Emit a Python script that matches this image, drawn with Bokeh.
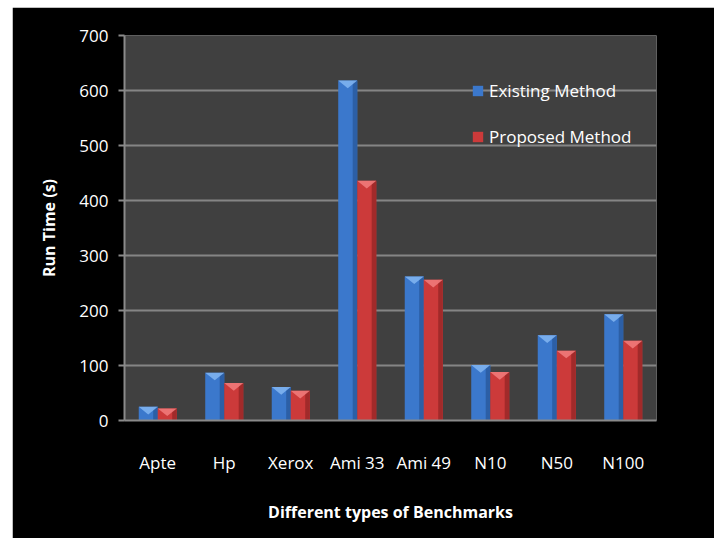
from bokeh.plotting import figure
from bokeh.models import ColumnDataSource, Range1d, FixedTicker, Legend, LegendItem, Spacer
from bokeh.layouts import column, row
from bokeh.embed import file_html
from bokeh.resources import INLINE

# ---- data ----
benchmarks = ["Apte", "Hp", "Xerox", "Ami 33", "Ami 49", "N10", "N50", "N100"]
existing = [25, 87, 61, 618, 262, 101, 155, 193]
proposed = [22, 68, 54, 436, 256, 88, 127, 145]
y_ticks = [0, 100, 200, 300, 400, 500, 600, 700]

# ---- style constants ----
BAR_W = 0.286
TRI_H = 14  # height of the top highlight, in data units
FONT = "Open Sans"

pos = [i + 0.5 for i in range(len(benchmarks))]

p = figure(
    output_backend="svg", toolbar_location=None,
    frame_width=532, frame_height=385,
    min_border_left=112, min_border_right=58,
    min_border_top=28, min_border_bottom=118,
    x_range=Range1d(0, len(benchmarks)), y_range=Range1d(0, 700),
)
p.border_fill_color = "black"
p.background_fill_color = "#404040"
p.outline_line_color = None


def draw_series(values, offset, base, dark, light):
    xs = [x + offset for x in pos]
    src = ColumnDataSource(dict(x=xs, top=values))
    main = p.vbar(x="x", top="top", width=BAR_W, source=src,
                  fill_color=base, line_color=None)
    strip = ColumnDataSource(dict(x=[x + BAR_W * 0.38 for x in xs], top=values))
    p.vbar(x="x", top="top", width=BAR_W * 0.24, source=strip,
           fill_color=dark, line_color=None)
    tri_x = [[x - BAR_W / 2, x + BAR_W / 2, x] for x in xs]
    tri_y = [[v, v, max(v - TRI_H, 0)] for v in values]
    p.patches(tri_x, tri_y, fill_color=light, line_color=None, fill_alpha=0.9)
    return main


r_exist = draw_series(existing, -BAR_W / 2, "#3b78cc", "#2c5fa6", "#7fb2f0")
r_prop = draw_series(proposed, BAR_W / 2, "#cc3a3a", "#a12a2a", "#f07a7a")

# axes
p.xaxis.ticker = FixedTicker(ticks=pos)
p.xaxis.major_label_overrides = {x: b for x, b in zip(pos, benchmarks)}
p.yaxis.ticker = FixedTicker(ticks=y_ticks)

for ax in (p.xaxis[0], p.yaxis[0]):
    ax.axis_line_color = "#8a8a8a"
    ax.axis_line_width = 2
    ax.major_label_text_color = "white"
    ax.major_label_text_font = FONT
    ax.major_label_text_font_size = "17px"
    ax.axis_label_text_color = "white"
    ax.axis_label_text_font = FONT
    ax.axis_label_text_font_size = "16px"
    ax.axis_label_text_font_style = "bold"
    ax.minor_tick_line_color = None
    ax.major_tick_line_color = "#8a8a8a"
    ax.major_tick_line_width = 2

p.xaxis.major_tick_out = 0
p.xaxis.major_tick_in = 0
p.xaxis.major_label_standoff = 30
p.xaxis.axis_label = "Different types of Benchmarks"
p.xaxis.axis_label_standoff = 24

p.yaxis.major_tick_out = 6
p.yaxis.major_tick_in = 0
p.yaxis.major_label_standoff = 10
p.yaxis.axis_label = "Run Time (s)"
p.yaxis.axis_label_standoff = 16

p.xgrid.grid_line_color = None
p.ygrid.grid_line_color = "#858585"
p.ygrid.grid_line_width = 2

legend = Legend(
    items=[LegendItem(label="Existing Method", renderers=[r_exist]),
           LegendItem(label="Proposed Method", renderers=[r_prop])],
    location=(347, 272),
    padding=0, margin=0, spacing=23,
    glyph_width=13, glyph_height=13, label_standoff=5,
    background_fill_alpha=0, border_line_color=None,
    label_text_color="white", label_text_font=FONT,
    label_text_font_size="17px",
)
p.add_layout(legend)

layout = column(Spacer(height=7), row(Spacer(width=12), p))

open("out.html", "w").write(file_html(layout, INLINE))
